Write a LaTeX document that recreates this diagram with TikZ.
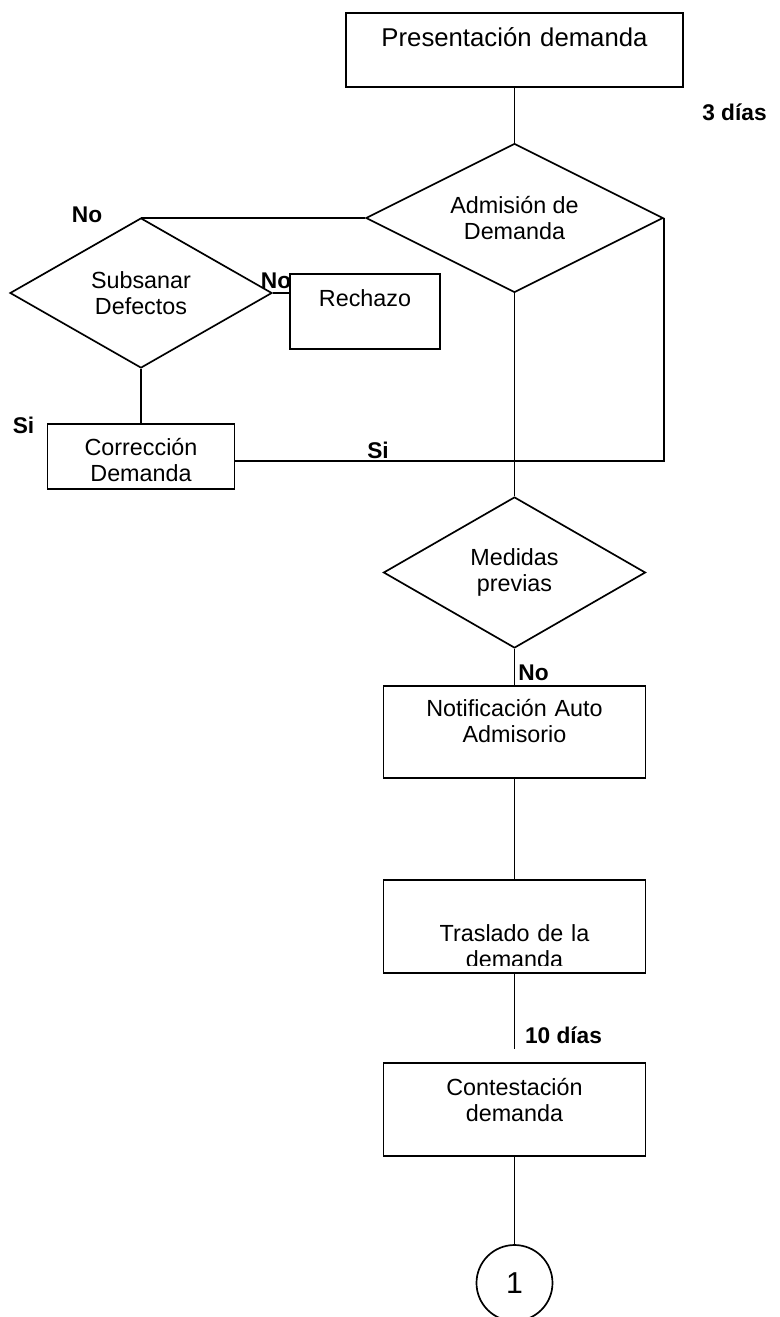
\documentclass[tikz,border=0pt]{standalone}
\usepackage{fontspec}
\setmainfont{Liberation Sans}
\usetikzlibrary{shapes.geometric,positioning}

\begin{document}
\begin{tikzpicture}[line width=1.2pt, font=\fontsize{16.6}{18.5}\selectfont,
        box/.style={draw, minimum width=6.55cm, minimum height=2.325cm},
        decision/.style={draw, diamond, aspect=2, inner sep=0pt, align=center},
        boxtext/.style={anchor=base, text width=6.4cm, align=center},
        tag/.style={font=\fontsize{16.15}{18.5}\selectfont\bfseries}]
    \useasboundingbox (0,0) rectangle (19.475,-32.925);
    % main column
    \node[draw, minimum width=8.425cm, minimum height=1.85cm] (pres) at (12.8625,-1.25) {};
    \node[decision, below of=pres, minimum width=7.425cm, minimum height=3.725cm, node distance=4.2cm] (adm) {Admisi\'on de\\Demanda};
    \node[decision, below of=adm, minimum width=6.55cm, minimum height=3.775cm, node distance=8.8625cm] (med) {Medidas\\previas};
    \node[box, below of=med, minimum height=2.3cm, node distance=3.9875cm] (notif) {};
    \node[box, below of=notif, node distance=4.8625cm] (tras) {};
    \node[box, below of=tras, node distance=4.575cm] (cont) {};
    \node[draw, circle, below of=cont, minimum size=1.9cm, inner sep=0pt, node distance=4.3375cm, font=\fontsize{21.5}{24}\selectfont] (one) {1};
    \coordinate (gap) at ([yshift=-1.875cm]tras.south);
    % left branch
    \node[decision, minimum width=6.55cm, minimum height=3.75cm] (sub) at (3.525,-7.325) {Subsanar\\Defectos};
    \node[draw, minimum width=3.75cm, minimum height=1.875cm] (rech) at (9.125,-7.7875) {};
    \node[draw, below of=sub, minimum width=4.675cm, minimum height=1.625cm, node distance=4.0875cm] (corr) {};
    % texts in the boxes
    \node[boxtext, text width=8cm, font=\fontsize{18.3}{21}\selectfont] (prestext) at ([yshift=-0.85cm]pres.north) {Presentaci\'on demanda};
    \node[boxtext, text width=3.6cm] (rechtext) at ([yshift=-0.825cm]rech.north) {Rechazo};
    \node[boxtext, text width=4.5cm] (corrtext) at ([yshift=-0.8cm]corr.north) {Correcci\'on\\Demanda};
    \node[boxtext] (notiftext) at ([yshift=-0.775cm]notif.north) {Notificaci\'on Auto\\Admisorio};
    \begin{scope}
        \clip (tras.north west) rectangle ([yshift=0.2cm]tras.south east);
        \node[boxtext] (trastext) at ([yshift=-1.55cm]tras.north) {Traslado de la\\demanda};
    \end{scope}
    \node[boxtext] (conttext) at ([yshift=-0.825cm]cont.north) {Contestaci\'on\\demanda};
    % connectors
    \draw (pres.south) -- (adm.north);
    \draw (adm.west) -- (adm.west -| sub.north);
    \draw (sub.east) -- (sub.east -| rech.west);
    \draw (sub.south) -- (corr.north);
    \draw ([yshift=-0.1125cm]corr.east) -| (adm.east);
    \draw (adm.south) -- (med.north);
    \draw (med.south) -- (notif.north);
    \draw (notif.south) -- (tras.north);
    \draw (tras.south) -- (gap);
    \draw (cont.south) -- (one.north);
    % labels
    \node[tag] (d3) at (18.3625,-2.8) {3 d\'{\i}as};
    \node[tag] (no1) at (2.175,-5.375) {No};
    \node[tag] (no2) at (6.9,-7.025) {No};
    \node[tag] (si1) at (0.5875,-10.625) {Si};
    \node[tag] (si2) at (9.45,-11.2625) {Si};
    \node[tag] (no3) at (13.3375,-16.8125) {No};
    \node[tag] (d10) at (14.0875,-25.8875) {10 d\'{\i}as};
\end{tikzpicture}
\end{document}
